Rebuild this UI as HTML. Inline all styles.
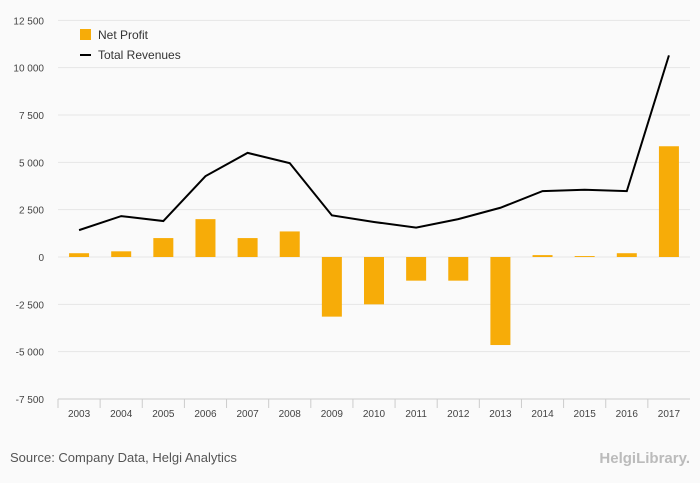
<!DOCTYPE html>
<html><head><meta charset="utf-8"><style>
body{margin:0;background:#fafafa;font-family:"Liberation Sans",sans-serif;}
svg{display:block}
</style></head><body>
<svg width="700" height="483">
<rect width="700" height="483" fill="#fafafa"/>
<g id="grid"></g><g id="bars"></g><g id="line"></g><g id="xl"></g>
<g>
<rect x="80" y="29" width="11" height="11" fill="#f7ac08"/>
<text x="98" y="39" font-size="12" fill="#333">Net Profit</text>
<line x1="80" y1="55" x2="91" y2="55" stroke="#000" stroke-width="2"/>
<text x="98" y="59" font-size="12" fill="#333">Total Revenues</text>
</g>
<text x="10" y="462" font-size="13" fill="#555">Source: Company Data, Helgi Analytics</text>
<text x="690" y="463" font-size="15" fill="#bbb" text-anchor="end" font-weight="bold">HelgiLibrary.</text>
</svg>
<script>
const categories=["2003","2004","2005","2006","2007","2008","2009","2010","2011","2012","2013","2014","2015","2016","2017"];
const netProfit=[200,300,1000,2000,1000,1350,-3150,-2500,-1250,-1250,-4650,100,50,200,5850];
const totalRevenues=[1420,2160,1900,4270,5500,4960,2200,1850,1550,2000,2600,3480,3550,3480,10650];
const yTicks=[12500,10000,7500,5000,2500,0,-2500,-5000,-7500];
const NS="http://www.w3.org/2000/svg";
const x0=58,x1=690,bw=(x1-x0)/categories.length;
const y=v=>257-v*(47.33/2500);
const xc=i=>x0+bw*(i+0.5);
function mk(p,t,a){const e=document.createElementNS(NS,t);for(const k in a)e.setAttribute(k,a[k]);document.getElementById(p).appendChild(e);return e;}
yTicks.forEach(t=>{
 const l=mk('grid','line',{x1:x0,x2:x1,y1:y(t),y2:y(t),stroke:t===-7500?'#ccc':'#e6e6e6'});
 
 
 const tx=mk('grid','text',{x:44,y:y(t)+4,'font-size':10,fill:'#444','text-anchor':'end'});
 tx.textContent=t.toLocaleString('en-US').replace(/,/g,' ');
 
 
});
categories.forEach((c,i)=>{
 const v=netProfit[i];
 const r=mk('bars','rect',{x:xc(i)-10,width:20,y:Math.min(y(v),y(0)),height:Math.abs(y(v)-y(0)),fill:'#f7ac08'});
 
 
 const t=mk('xl','text',{x:xc(i),y:417,'font-size':10,fill:'#444','text-anchor':'middle'});
 t.textContent=c;
 
 
 const tk=mk('xl','line',{x1:x0+bw*i,x2:x0+bw*i,y1:399,y2:408,stroke:'#ccc'});
 
 
});
const p=mk('line','polyline',{points:totalRevenues.map((v,i)=>xc(i)+','+y(v)).join(' '),fill:'none',stroke:'#000','stroke-width':2});


</script>
</body></html>
